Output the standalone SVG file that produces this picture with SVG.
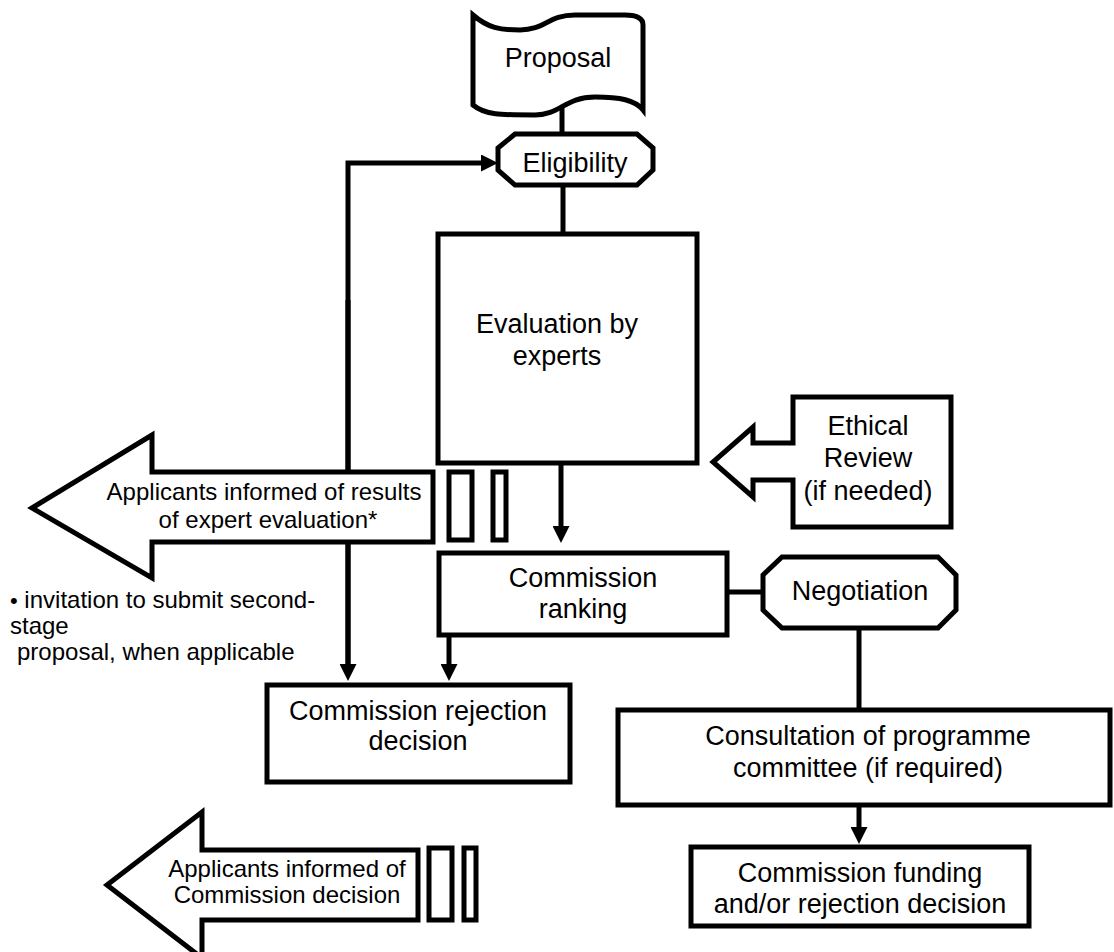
<svg xmlns="http://www.w3.org/2000/svg" width="1114" height="952" viewBox="0 0 1114 952">
<style>
.s{fill:#fff;stroke:#000;stroke-width:5;stroke-linejoin:miter}
.c{fill:none;stroke:#000;stroke-width:5}
.t{font-family:"Liberation Sans",Arial,sans-serif;font-size:27px;fill:#000;text-anchor:middle}
.m{font-family:"Liberation Sans",Arial,sans-serif;font-size:24px;fill:#000;text-anchor:middle}
.f{font-family:"Liberation Sans",Arial,sans-serif;font-size:24px;fill:#000}
</style>
<defs>
<marker id="ah" viewBox="0 0 17 17" refX="7" refY="8.5" markerWidth="17" markerHeight="17" markerUnits="userSpaceOnUse" orient="auto">
<path d="M0,0 L17,8.5 L0,17 Z" fill="#000"/>
</marker>
</defs>
<g id="connectors">
<line class="c" x1="562" y1="100" x2="562" y2="134"/>
<line class="c" x1="563" y1="185" x2="563" y2="234"/>
<path class="c" d="M348,671 L348,163 L488,163" marker-end="url(#ah)"/>
<line class="c" x1="348" y1="300" x2="348" y2="671" marker-end="url(#ah)"/>
<line class="c" x1="561" y1="464" x2="561" y2="533" marker-end="url(#ah)"/>
<line class="c" x1="449" y1="635" x2="449" y2="671" marker-end="url(#ah)"/>
<line class="c" x1="727" y1="592" x2="763" y2="592"/>
<line class="c" x1="859" y1="628" x2="859" y2="710"/>
<line class="c" x1="859" y1="805" x2="859" y2="834" marker-end="url(#ah)"/>
</g>
<g id="proposal">
<path class="s" d="M473,15 C488,28 500,30 520,30 C545,30 548,15 575,15 L625,15 C640,15 643,20 643,25 L643,110 C635,100 620,97 595,97 C565,97 560,115 535,115 C500,115 485,115 473,105 Z"/>
<text class="t" x="558" y="67">Proposal</text>
</g>
<g id="eligibility">
<polygon class="s" points="515,134 637,134 653,148 653,170 637,185 515,185 498,170 498,148"/>
<text class="t" x="575" y="172">Eligibility</text>
</g>
<g id="evaluation">
<rect class="s" x="438" y="234" width="259" height="229"/>
<text class="t" x="557" y="333">Evaluation by</text>
<text class="t" x="557" y="365">experts</text>
</g>
<g id="ethical-review">
<polygon class="s" points="793,397 951,397 951,527 793,527 793,480 753,480 753,497 713,462 753,427 753,443 793,443"/>
<text class="t" x="868" y="435">Ethical</text>
<text class="t" x="868" y="467">Review</text>
<text class="t" x="868" y="500">(if needed)</text>
</g>
<g id="applicants-results">
<polygon class="s" points="32,508 152,435 152,472 433,472 433,542 152,542 152,578"/>
<rect class="s" x="449" y="472" width="23" height="68"/>
<rect class="s" x="493" y="472" width="13" height="68"/>
<text class="m" x="264" y="500">Applicants informed of results</text>
<text class="m" x="268" y="528">of expert evaluation*</text>
</g>
<g id="footnote">
<text class="f" x="10" y="608"><tspan font-size="22">•</tspan> invitation to submit second-</text>
<text class="f" x="10" y="634">stage</text>
<text class="f" x="17" y="660">proposal, when applicable</text>
</g>
<g id="ranking">
<rect class="s" x="439" y="553" width="288" height="82"/>
<text class="t" x="583" y="587">Commission</text>
<text class="t" x="583" y="618">ranking</text>
</g>
<g id="negotiation">
<polygon class="s" points="782,557 938,557 956,575 956,610 938,628 782,628 763,610 763,575"/>
<text class="t" x="860" y="600">Negotiation</text>
</g>
<g id="rejection">
<rect class="s" x="267" y="685" width="303" height="97"/>
<text class="t" x="418" y="720">Commission rejection</text>
<text class="t" x="418" y="750">decision</text>
</g>
<g id="consultation">
<rect class="s" x="618" y="710" width="492" height="95"/>
<text class="t" x="868" y="745">Consultation of programme</text>
<text class="t" x="868" y="777">committee (if required)</text>
</g>
<g id="funding">
<rect class="s" x="691" y="847" width="338" height="79"/>
<text class="t" x="860" y="882">Commission funding</text>
<text class="t" x="860" y="913">and/or rejection decision</text>
</g>
<g id="applicants-decision">
<polygon class="s" points="107,885 202,812 202,850 418,850 418,920 202,920 202,958"/>
<rect class="s" x="429" y="848" width="23" height="72"/>
<rect class="s" x="464" y="848" width="12" height="72"/>
<text class="m" x="287" y="877">Applicants informed of</text>
<text class="m" x="287" y="903">Commission decision</text>
</g>
</svg>
